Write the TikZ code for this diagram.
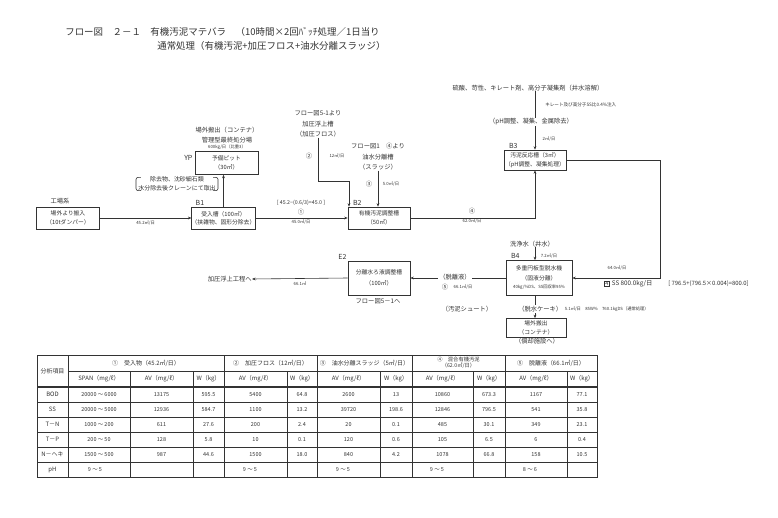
\documentclass[tikz,border=0pt]{standalone}
\usepackage{fontspec}
\setmainfont{Noto Sans CJK JP}
\usetikzlibrary{arrows.meta,positioning}
\tikzset{
	box/.style={draw,inner sep=0pt,align=center,font=\fontsize{5.8}{8.5}\selectfont},
	lbl/.style={inner sep=0pt,align=center,font=\fontsize{6.3}{10.5}\selectfont},
	qty/.style={inner sep=0pt,font=\fontsize{4.3}{5}\selectfont},
	btag/.style={inner sep=0pt,font=\fontsize{7}{8}\selectfont},
	flow/.style={-{Stealth[length=3.5pt,width=2.8pt]}},
	cell/.style={inner sep=0pt,align=center,font=\fontsize{6}{7}\selectfont},
}
\begin{document}
\begin{tikzpicture}[x=1bp,y=-1bp,line width=0.6pt,color=black!80]
		\path[fill=white,use as bounding box] (0,0) rectangle (778,518);
		\node[anchor=west,inner sep=0pt,font=\fontsize{9.5}{11}\selectfont] (title1) at (65,32) {フロー図　２－１　有機汚泥マテバラ　（10時間×2回ﾊﾞｯﾁ処理／1日当り};
		\node[anchor=west,inner sep=0pt,font=\fontsize{9.5}{11}\selectfont] (title2) at (157,46) {通常処理（有機汚泥+加圧フロス+油水分離スラッジ）};
		\node[lbl] (srct) at (60,201) {工場系};
		\node[box,minimum width=63bp,minimum height=22bp] (src) at (68,218) {場外より搬入\\（10tダンパー）};
		\node[box,minimum width=63bp,minimum height=22bp] (b1) at (223.5,218) {受入槽（100㎥）\\（挟雑物、固形分除去）};
		\node[btag,anchor=south west] (b1t) at ([xshift=4bp,yshift=1bp]b1.north west) {B1};
		\node[box,minimum width=63bp,minimum height=23bp] (yp) at (226.5,163) {予備ピット\\（30㎥）};
		\node[btag,anchor=east] (ypt) at ([xshift=-2bp,yshift=5bp]yp.west) {YP};
		\node[lbl] (dump) at (227,135) {場外搬出（コンテナ）\\管理型最終処分場};
		\node[qty] (dumpq) at (227,147.5) {600kg/日（比重3）};
		\node[lbl,font=\fontsize{6}{9}\selectfont] (rem) at (177,184) {除去物、沈砂細石類\\水分除去後クレーンにて取出};
		\draw[rounded corners=2bp] ([xshift=3bp,yshift=-1bp]rem.north west) -- ([xshift=-2bp,yshift=-1bp]rem.north west) -- ([xshift=-2bp,yshift=1bp]rem.south west) -- ([xshift=3bp,yshift=1bp]rem.south west);
		\draw[rounded corners=2bp] ([xshift=-3bp,yshift=-1bp]rem.north east) -- ([xshift=2bp,yshift=-1bp]rem.north east) -- ([xshift=2bp,yshift=1bp]rem.south east) -- ([xshift=-3bp,yshift=1bp]rem.south east);
		\draw[flow] (src.east) -- node[qty,below=2bp] {45.2㎥/日} (b1.west);
		\draw[flow] (b1.north) -- (b1.north |- yp.south);
		\node[box,minimum width=62bp,minimum height=22bp] (b2) at (379,218) {有機汚泥調整槽\\（50㎥）};
		\node[btag,anchor=south west] (b2t) at ([xshift=5bp,yshift=1bp]b2.north west) {B2};
		\draw[flow] (b1.east) -- (b2.west);
		\node[lbl,font=\fontsize{5.3}{6}\selectfont] (eq1) at (301,203) {[ 45.2−(0.6/3)=45.0 ]};
		\node[lbl] (n1) at (301,212) {①};
		\node[qty] (q1) at (301,222.5) {45.0㎥/日};
		\node[lbl] (src2) at (318,124) {フロー図5-1より\\加圧浮上槽\\（加圧フロス）};
		\coordinate (k2) at (349,181);
		\draw[flow] (src2.south) |- (k2) -- (k2 |- b2.north);
		\node[lbl] (n2) at (309,156) {②};
		\node[qty] (q2) at (337,156) {12㎥/日};
		\node[lbl] (src3) at (378,157) {フロー図1　④より\\油水分離槽\\（スラッジ）};
		\draw[flow] (src3.south) -- (src3.south |- b2.north);
		\node[lbl] (n3) at (369,184) {③};
		\node[qty] (q3) at (391,184) {5.0㎥/日};
		\node[box,minimum width=62bp,minimum height=20bp] (b3) at (535,160) {汚泥反応槽（3㎥）\\（pH調整、凝集処理）};
		\node[btag,anchor=south west] (b3t) at ([xshift=5bp,yshift=1bp]b3.north west) {B3};
		\draw[flow] (b2.east) -| (b3.south);
		\node[lbl] (n4) at (472,211) {④};
		\node[qty] (q4) at (472,221.5) {62.0㎥/日};
		\node[lbl] (chem) at (528,88) {硫酸、苛性、キレート剤、高分子凝集剤（井水溶解）};
		\draw[flow] (b3.north |- chem.south) -- (b3.north);
		\node[qty,font=\fontsize{4.6}{5}\selectfont,anchor=west] (inj) at (545,105) {キレート及び高分子SS比0.4\%注入};
		\node[lbl,fill=white,inner sep=1bp] (ph) at (531,122) {（pH調整、凝集、金属除去）};
		\node[qty] (q5) at (549,139) {2㎥/日};
		\node[box,minimum width=66bp,minimum height=35bp] (b4) at (539,278) {多重円板型脱水機\\[1bp]（固液分離）\\{\fontsize{4.3}{5}\selectfont 40kg/\%DS、SS回収率95\%}};
		\node[btag,anchor=south west] (b4t) at ([xshift=5bp,yshift=1bp]b4.north west) {B4};
		\coordinate (rt) at (660,160);
		\draw[flow] (b3.east) -| (rt |- b4.east) -- (b4.east);
		\node[qty] (q6) at (617,268) {64.0㎥/日};
		\coordinate (bx) at (535,300);
		\node[lbl] (wash) at (532,244) {洗浄水（井水）};
		\draw[flow] (bx |- wash.south) -- (bx |- b4.north);
		\node[qty] (q7) at (549,256) {7.2㎥/日};
		\node[draw,inner sep=0.8bp,font=\fontsize{5.5}{6}\selectfont] (box4) at (607,284) {4};
		\node[lbl,right=2bp of box4] (ss) {SS 800.0kg/日};
		\node[lbl,anchor=west,font=\fontsize{5.9}{7}\selectfont] (eq2) at (668,284) {[ 796.5+(796.5×0.004)=800.0]};
		\node[box,minimum width=62bp,minimum height=34bp] (e2) at (379,278) {分離水ろ液調整槽\\[3bp]（100㎥）};
		\node[btag,anchor=south east] (e2t) at ([xshift=-1bp,yshift=1bp]e2.north west) {E2};
		\node[lbl] (e2o) at (378,301) {フロー図5－1へ};
		\draw[flow] (b4.west) -- (e2.east);
		\node[lbl,fill=white,inner sep=1bp] (sep) at (455,277) {（脱離液）};
		\node[lbl] (n5) at (445,287) {⑤};
		\node[qty] (q8) at (463,287) {66.1㎥/日};
		\node[lbl,anchor=east] (flot) at (252,279) {加圧浮上工程へ};
		\draw[flow] (e2.west) -- (flot.east);
		\node[qty] (q9) at (300,284) {66.1㎥};
		\node[box,minimum width=60bp,minimum height=19bp] (out) at (536,328) {場外搬出\\（コンテナ）};
		\node[lbl] (outt) at (537,341) {（償却施設へ）};
		\draw[flow] (bx |- b4.south) -- (bx |- out.north);
		\node[lbl] (chute) at (467,309) {（汚泥シュート）};
		\node[lbl,fill=white,inner sep=1bp,anchor=west] (cake) at (517,309) {（脱水ケーキ）};
		\node[qty,right=1bp of cake] (caket) {5.1㎥/日　85W\%　760.1kgDS（通常処理）};
		\foreach \x in {130,193,287,380,473,567}
			\draw (\x,371) -- (\x,477);
		\foreach \x in {68,224,317,412,505}
			\draw[line width=0.9pt] (\x,355) -- (\x,477);
		\draw (68,371) -- (597,371);
		\foreach \y in {402,417,432,447,462}
			\draw (37,\y) -- (597,\y);
		\draw[line width=1.2pt] (37,387) -- (597,387);
		\draw[line width=0.9pt] (37,355) rectangle (597,477);
		\node[cell] (h0) at (52.5,371) {分析項目};
		\node[cell] (h1) at (146,363) {①　受入物（45.2㎥/日）};
		\node[cell] (h2) at (270.5,363) {②　加圧フロス（12㎥/日）};
		\node[cell] (h3) at (364.5,363) {③　油水分離スラッジ（5㎥/日）};
		\node[cell,font=\fontsize{5.3}{6.3}\selectfont] (h4) at (458.5,363) {④　混合有機汚泥\\（62.0㎥/日）};
		\node[cell] (h5) at (551,363) {⑤　脱離液（66.1㎥/日）};
		\node[cell] (hs) at (99,379) {SPAN（mg/ℓ）};
		\foreach \x [count=\i] in {161.5,255.5,348.5,442.5,536}
			\node[cell] (av\i) at (\x,379) {AV（mg/ℓ）};
		\foreach \x [count=\i] in {208.5,302,396,489,582}
			\node[cell] (w\i) at (\x,379) {W（kg）};
		\foreach \n/\s/\a/\b/\c/\d/\e/\f/\g/\h/\k/\l [count=\i] in {BOD/20000 ～ 6000/13175/595.5/5400/64.8/2600/13/10860/673.3/1167/77.1,SS/20000 ～ 5000/12936/584.7/1100/13.2/39720/198.6/12846/796.5/541/35.8,T－N/1000 ～ 200/611/27.6/200/2.4/20/0.1/485/30.1/349/23.1,T－P/200 ～ 50/128/5.8/10/0.1/120/0.6/105/6.5/6/0.4,N－ヘキ/1500 ～ 500/987/44.6/1500/18.0/840/4.2/1078/66.8/158/10.5}{
			\node[cell] (r\i) at (52.5,{379.5+15*\i}) {\n};
			\node[cell,font=\fontsize{5.5}{6}\selectfont] (r\i s) at (99,{379.5+15*\i}) {\s};
			\node[cell,font=\fontsize{5.5}{6}\selectfont] (r\i a) at (161.5,{379.5+15*\i}) {\a};
			\node[cell,font=\fontsize{5.5}{6}\selectfont] (r\i b) at (208.5,{379.5+15*\i}) {\b};
			\node[cell,font=\fontsize{5.5}{6}\selectfont] (r\i c) at (255.5,{379.5+15*\i}) {\c};
			\node[cell,font=\fontsize{5.5}{6}\selectfont] (r\i d) at (302,{379.5+15*\i}) {\d};
			\node[cell,font=\fontsize{5.5}{6}\selectfont] (r\i e) at (348.5,{379.5+15*\i}) {\e};
			\node[cell,font=\fontsize{5.5}{6}\selectfont] (r\i f) at (396,{379.5+15*\i}) {\f};
			\node[cell,font=\fontsize{5.5}{6}\selectfont] (r\i g) at (442.5,{379.5+15*\i}) {\g};
			\node[cell,font=\fontsize{5.5}{6}\selectfont] (r\i h) at (489,{379.5+15*\i}) {\h};
			\node[cell,font=\fontsize{5.5}{6}\selectfont] (r\i k) at (536,{379.5+15*\i}) {\k};
			\node[cell,font=\fontsize{5.5}{6}\selectfont] (r\i l) at (582,{379.5+15*\i}) {\l};
		}
		\node[cell] (ph0) at (52.5,469.5) {pH};
		\foreach \x/\v [count=\i] in {95/9 ～ 5,250/9 ～ 5,343/9 ～ 5,437/9 ～ 5,530/8 ～ 6}
			\node[cell,font=\fontsize{5.5}{6}\selectfont] (ph\i) at (\x,469.5) {\v};
\end{tikzpicture}
\end{document}
